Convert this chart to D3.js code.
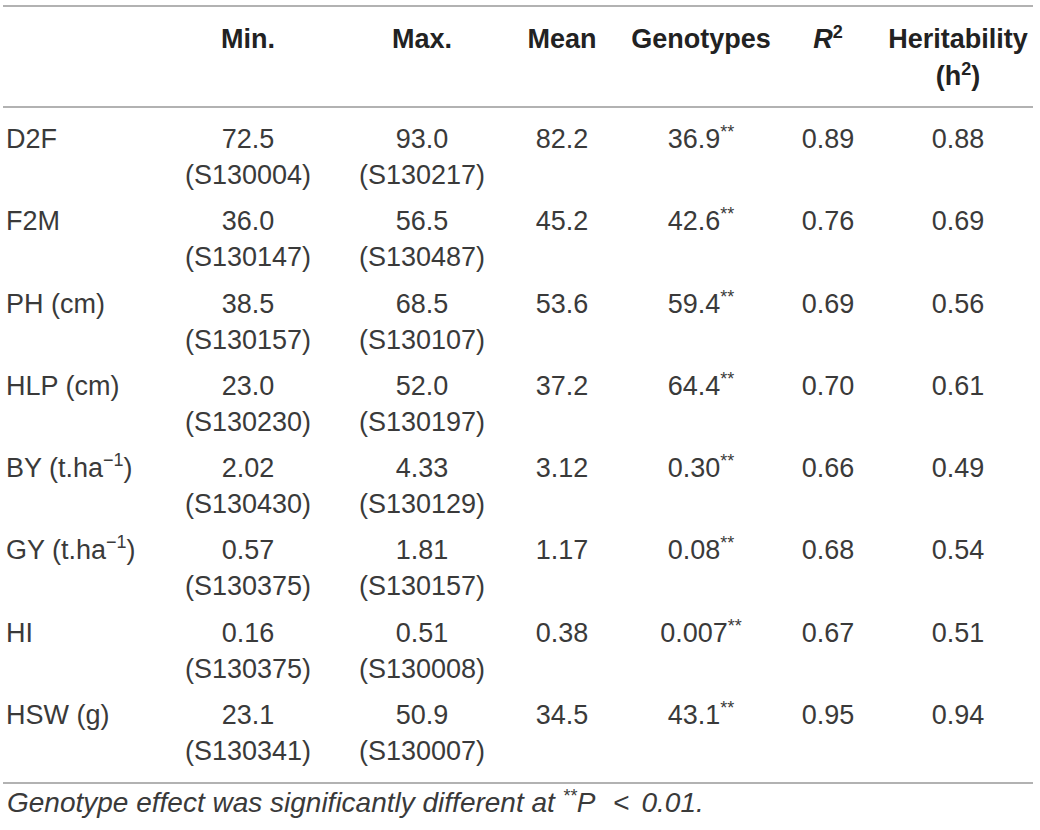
<!DOCTYPE html>
<html>
<head>
<meta charset="utf-8">
<script src="https://cdn.jsdelivr.net/npm/d3@7"></script>
<style>
  body { margin: 0; background: #fff; }
  svg text { font-family: "Liberation Sans", Arial, sans-serif; fill: #3a3a3a; }
  svg .head text { fill: #222; }
</style>
</head>
<body>
<svg id="table" width="1040" height="830"></svg>
<script>
// table contents
const traits = ['D2F', 'F2M', 'PH (cm)', 'HLP (cm)', 'BY (t.ha', 'GY (t.ha', 'HI', 'HSW (g)'];
const traitSup = ['', '', '', '', '\u22121', '\u22121', '', ''];
const minVals = ['72.5', '36.0', '38.5', '23.0', '2.02', '0.57', '0.16', '23.1'];
const minGeno = ['S130004', 'S130147', 'S130157', 'S130230', 'S130430', 'S130375', 'S130375', 'S130341'];
const maxVals = ['93.0', '56.5', '68.5', '52.0', '4.33', '1.81', '0.51', '50.9'];
const maxGeno = ['S130217', 'S130487', 'S130107', 'S130197', 'S130129', 'S130157', 'S130008', 'S130007'];
const means = ['82.2', '45.2', '53.6', '37.2', '3.12', '1.17', '0.38', '34.5'];
const genotypes = ['36.9', '42.6', '59.4', '64.4', '0.30', '0.08', '0.007', '43.1'];
const rSquared = ['0.89', '0.76', '0.69', '0.70', '0.66', '0.68', '0.67', '0.95'];
const heritability = ['0.88', '0.69', '0.56', '0.61', '0.49', '0.54', '0.51', '0.94'];
const columns = ['min', 'max', 'mean', 'geno', 'r2', 'h2'];

const svg = d3.select('#table');
const fontSize = 27;
const supSize = 18;

const x = d3.scaleOrdinal().domain(columns).range([248, 422, 562, 701, 828, 958]);
const y = d3.scalePoint().domain(traits).range([148, 724]);

// rules
const rules = [6, 107, 783];
svg.selectAll('line.rule')
    .data(rules)
    .enter()
    .append('line')
    .attr('class', 'rule')
    .attr('x1', 3).attr('x2', 1033)
    .attr('y1', d => d).attr('y2', d => d)
    .attr('stroke', '#999')
    .attr('stroke-width', 1.5);

// header
const head = svg.append('g')
    .attr('class', 'head')
    .attr('font-size', fontSize)
    .attr('font-weight', 700)
    .attr('text-anchor', 'middle');

head.append('text').attr('x', x('min')).attr('y', 48).text('Min.');
head.append('text').attr('x', x('max')).attr('y', 48).text('Max.');
head.append('text').attr('x', x('mean')).attr('y', 48).text('Mean');
head.append('text').attr('x', x('geno')).attr('y', 48).text('Genotypes');
const r2h = head.append('text').attr('x', x('r2')).attr('y', 48);
r2h.append('tspan').attr('font-style', 'italic').text('R');
r2h.append('tspan').attr('font-size', supSize).attr('dy', -10).text('2');
head.append('text').attr('x', x('h2')).attr('y', 48).text('Heritability');
const hh = head.append('text').attr('x', x('h2')).attr('y', 85);
hh.append('tspan').text('(h');
hh.append('tspan').attr('font-size', supSize).attr('dy', -10).text('2');
hh.append('tspan').attr('dy', 10).text(')');

// body rows
const rows = svg.selectAll('g.row')
    .data(traits)
    .enter()
    .append('g')
    .attr('class', 'row')
    .attr('font-size', fontSize)
    .attr('transform', d => `translate(0,${y(d)})`);

const label = rows.append('text').attr('x', 6);
label.append('tspan').text(d => d);
label.append('tspan')
    .attr('font-size', supSize).attr('dy', -11)
    .text((d, i) => traitSup[i]);
label.append('tspan')
    .attr('dy', (d, i) => traitSup[i] ? 11 : 0)
    .text((d, i) => traitSup[i] ? ')' : '');

function cell(col, vals) {
    rows.append('text')
        .attr('x', x(col))
        .attr('text-anchor', 'middle')
        .text((d, i) => vals[i]);
}
cell('min', minVals);
cell('max', maxVals);
cell('mean', means);
cell('r2', rSquared);
cell('h2', heritability);

rows.append('text')
    .attr('x', x('min')).attr('y', 36)
    .attr('text-anchor', 'middle')
    .text((d, i) => `(${minGeno[i]})`);
rows.append('text')
    .attr('x', x('max')).attr('y', 36)
    .attr('text-anchor', 'middle')
    .text((d, i) => `(${maxGeno[i]})`);

const g = rows.append('text')
    .attr('x', x('geno'))
    .attr('text-anchor', 'middle');
g.append('tspan').text((d, i) => genotypes[i]);
g.append('tspan').attr('font-size', supSize).attr('dy', -10).text('**');

// footnote
const fn = svg.append('text')
    .attr('x', 7).attr('y', 812)
    .attr('font-size', 28)
    .attr('font-style', 'italic');
fn.append('tspan').text('Genotype effect was significantly different at ');
fn.append('tspan').attr('font-size', supSize).attr('dy', -10).text('**');
fn.append('tspan').attr('dy', 10).text('P');
fn.append('tspan').attr('dx', 18).attr('font-style', 'normal').text('<');
fn.append('tspan').attr('dx', 4).text(' 0.01.');
</script>
</body>
</html>
